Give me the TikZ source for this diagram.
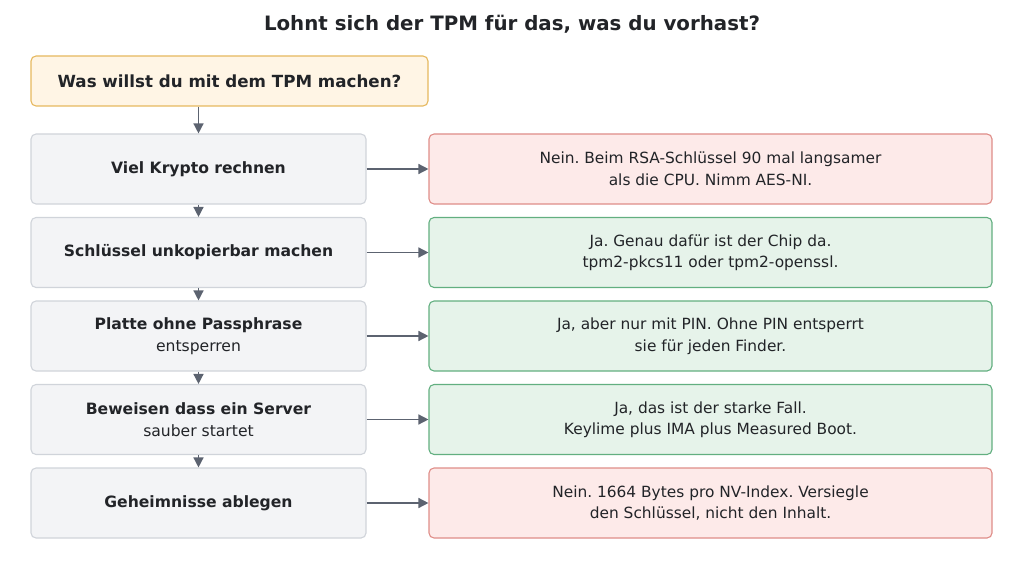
\documentclass[tikz,border=0pt]{standalone}
\usepackage{fontspec}
\setmainfont{DejaVu Sans}
\usetikzlibrary{arrows.meta}
\definecolor{inkDark}{HTML}{222428}
\definecolor{inkArrow}{HTML}{5C6370}
\definecolor{askFill}{HTML}{FFF5E5}
\definecolor{askLine}{HTML}{E6B85E}
\definecolor{caseFill}{HTML}{F3F4F6}
\definecolor{caseLine}{HTML}{D0D4DA}
\definecolor{noFill}{HTML}{FDEAE9}
\definecolor{noLine}{HTML}{DF8D88}
\definecolor{yesFill}{HTML}{E6F3EA}
\definecolor{yesLine}{HTML}{62AF80}
\frenchspacing

\begin{document}
\begin{tikzpicture}
[x=1pt,y=-1pt,
  boxDecorate/.style={rounded corners=5pt,line width=1.1pt,align=center,
    text=inkDark,inner sep=0pt},
  askDecorate/.style={boxDecorate,draw=askLine,fill=askFill,
    minimum width=397pt,minimum height=50pt,font=\fontsize{16.7}{20}\selectfont\bfseries},
  caseDecorate/.style={boxDecorate,draw=caseLine,fill=caseFill,
    minimum width=335pt,minimum height=70pt,font=\fontsize{15.6}{21.5}\selectfont},
  noDecorate/.style={boxDecorate,draw=noLine,fill=noFill,
    minimum width=563pt,minimum height=70pt,font=\fontsize{15.4}{21.5}\selectfont},
  yesDecorate/.style={noDecorate,draw=yesLine,fill=yesFill},
  lineDecorate/.style={-{Triangle[length=10pt,width=10pt]},line width=1.4pt,draw=inkArrow}]
\useasboundingbox (0,0) rectangle (1024,564);
%% title
\node (title) at (512,24) [text=inkDark,font=\fontsize{19.8}{24}\selectfont\bfseries]
  {Lohnt sich der TPM für das, was du vorhast?};
\node (ask) at (229.5,81) [askDecorate] {Was willst du mit dem TPM machen?};
%% cases and answers
\foreach \nodename/\y/\case/\answer/\kind in {
  1/169/{\textbf{Viel Krypto rechnen}}/{Nein. Beim RSA-Schlüssel 90 mal langsamer\\als die CPU. Nimm AES-NI.}/no,
  2/252.5/{\textbf{Schlüssel unkopierbar machen}}/{Ja. Genau dafür ist der Chip da.\\tpm2-pkcs11 oder tpm2-openssl.}/yes,
  3/336/{\textbf{Platte ohne Passphrase}\\entsperren}/{Ja, aber nur mit PIN. Ohne PIN entsperrt\\sie für jeden Finder.}/yes,
  4/419.5/{\textbf{Beweisen dass ein Server}\\sauber startet}/{Ja, das ist der starke Fall.\\Keylime plus IMA plus Measured Boot.}/yes,
  5/503/{\textbf{Geheimnisse ablegen}}/{Nein. 1664 Bytes pro NV-Index. Versiegle\\den Schlüssel, nicht den Inhalt.}/no}
{
  \node (case\nodename) at (198.5,\y) [caseDecorate] {\case};
  \node (answer\nodename) at (710.5,\y) [\kind Decorate] {\answer};
  \draw[lineDecorate] (case\nodename) -- (answer\nodename);
}
%% edges or lines
\draw[lineDecorate] (ask.south -| case1) -- (case1.north);
\foreach \startnode/\endnode in {1/2, 2/3, 3/4, 4/5}
{
  \draw[lineDecorate] (case\startnode) -- (case\endnode);
}
\end{tikzpicture}
\end{document}
